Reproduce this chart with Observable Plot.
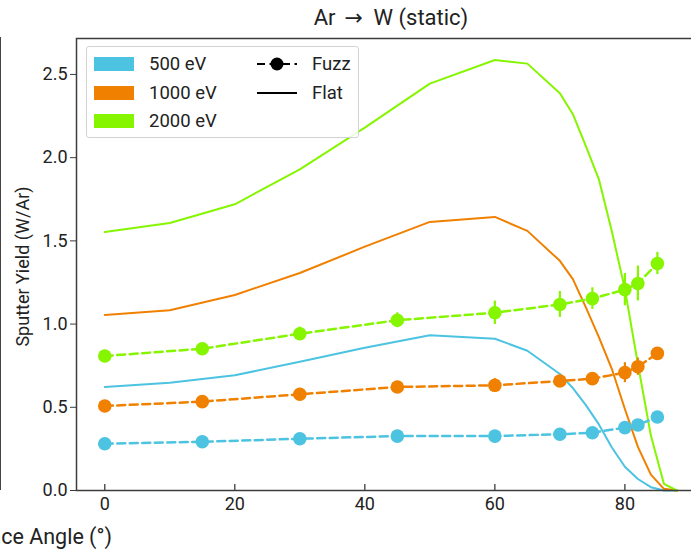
<!DOCTYPE html>
<html>
<head>
<meta charset="utf-8">
<script src="https://cdn.jsdelivr.net/npm/d3@7"></script>
<script src="https://cdn.jsdelivr.net/npm/@observablehq/plot@0.6"></script>
<style>
  html, body { margin: 0; padding: 0; overflow: hidden; background: #fff; }
  #wrap { position: relative; width: 691px; height: 550px; overflow: hidden; font-family: Roboto, sans-serif; color: #222; }
  #wrap svg { position: absolute; left: 0; top: 0; max-width: none; }
  .title { position: absolute; left: 0; width: 782px; top: 5px; text-align: center; font-size: 22px; line-height: 26px; white-space: nowrap; }
  .title .arr { display: inline-block; width: 38px; padding-left: 9px; box-sizing: border-box; text-align: left;
                font-family: "DejaVu Sans", sans-serif; font-size: 22px; line-height: 26px; vertical-align: top; }
  .neighbor { position: absolute; left: -300px; top: 37px; width: 301px; height: 453px; border: 1.5px solid #444; box-sizing: border-box; }
  .neighbor-label { position: absolute; right: 579px; top: 524px; font-size: 21.5px; line-height: 26px; white-space: nowrap; }
  .legend { position: absolute; left: 86px; top: 46px; width: 273px; height: 92px; box-sizing: border-box;
            border: 1px solid #d2d2d2; border-radius: 3px; background: rgba(255,255,255,0.85); font-size: 18.5px; }
  .legend .sw { position: absolute; left: 7px; width: 40px; height: 14px; }
  .legend .lab { position: absolute; line-height: 20px; white-space: nowrap; }
  .legend svg { position: absolute; }
</style>
</head>
<body>
<div id="wrap"></div>
<script>
// Incidence angles (degrees) and sputter yields (W atoms per Ar ion)
const flatAngles = [0, 10, 20, 30, 40, 50, 60, 65, 70, 72, 74, 76, 78, 80, 82, 84, 86, 88];
const flat500  = [0.622, 0.648, 0.692, 0.774, 0.858, 0.933, 0.912, 0.840, 0.700, 0.615, 0.513, 0.397, 0.258, 0.143, 0.069, 0.020, 0.0, 0.0];
const flat1000 = [1.055, 1.083, 1.175, 1.307, 1.465, 1.614, 1.644, 1.560, 1.380, 1.270, 1.100, 0.922, 0.730, 0.490, 0.262, 0.095, 0.010, 0.0];
const flat2000 = [1.553, 1.607, 1.720, 1.930, 2.180, 2.445, 2.587, 2.565, 2.387, 2.261, 2.070, 1.870, 1.556, 1.210, 0.760, 0.330, 0.040, 0.0];

const fuzzAngles = [0, 15, 30, 45, 60, 70, 75, 80, 82, 85];
const fuzz500  = [0.281, 0.293, 0.311, 0.327, 0.327, 0.338, 0.347, 0.378, 0.394, 0.442];
const fuzz1000 = [0.508, 0.534, 0.578, 0.622, 0.632, 0.658, 0.672, 0.708, 0.744, 0.824];
const fuzz2000 = [0.808, 0.852, 0.942, 1.023, 1.068, 1.118, 1.153, 1.207, 1.244, 1.364];
const err500   = [0.010, 0.010, 0.010, 0.015, 0.015, 0.015, 0.015, 0.020, 0.020, 0.020];
const err1000  = [0.015, 0.015, 0.020, 0.025, 0.040, 0.030, 0.030, 0.060, 0.052, 0.030];
const err2000  = [0.025, 0.030, 0.040, 0.045, 0.070, 0.078, 0.065, 0.097, 0.105, 0.067];

const energies = ["500 eV", "1000 eV", "2000 eV"];
const colors = ["#4cc3e0", "#f08000", "#86f500"];
const xTicks = [0, 20, 40, 60, 80];
const yTicks = [0, 0.5, 1.0, 1.5, 2.0, 2.5];
const titleParts = ["Ar", "\u2192", "W (static)"];
const yLabel = "Sputter Yield (W/Ar)";
const figureXLabel = "Incidence Angle (\u00b0)";

const flatSeries = [flat500, flat1000, flat2000];
const fuzzSeries = [fuzz500, fuzz1000, fuzz2000];
const errSeries = [err500, err1000, err2000];

const flat = energies.flatMap((e, i) => flatAngles.map((a, j) => ({energy: e, angle: a, y: flatSeries[i][j]})));
const fuzz = energies.flatMap((e, i) => fuzzAngles.map((a, j) => ({energy: e, angle: a, y: fuzzSeries[i][j], err: errSeries[i][j]})));

const axisColor = "#3c3c3c";
const mTop = 38, mBottom = 60, frameH = 550 - mTop - mBottom;

const chart = Plot.plot({
  width: 712,
  height: 550,
  marginLeft: 76,
  marginRight: 7,
  marginTop: mTop,
  marginBottom: mBottom,
  style: {fontFamily: "Roboto, sans-serif", fontSize: "18px", color: "#222", background: "transparent", overflow: "visible", maxWidth: "none"},
  x: {domain: [-4.35, 92.4]},
  y: {domain: [0, 2.716]},
  color: {domain: energies, range: colors},
  marks: [
    Plot.line(flat, {x: "angle", y: "y", z: "energy", stroke: "energy", strokeWidth: 2}),
    Plot.line(fuzz, {x: "angle", y: "y", z: "energy", stroke: "energy", strokeWidth: 2.5, strokeDasharray: "8,4.5"}),
    Plot.ruleX(fuzz, {x: "angle", y1: d => d.y - d.err, y2: d => d.y + d.err, stroke: "energy", strokeWidth: 2.2}),
    Plot.dot(fuzz, {x: "angle", y: "y", fill: "energy", r: 6.8}),
    Plot.frame({stroke: axisColor, strokeWidth: 1.5}),
    Plot.ruleX(xTicks, {x: d => d, insetTop: frameH - 6, stroke: axisColor, strokeWidth: 1.3}),
    Plot.axisX({ticks: xTicks, tickSize: 0, tickPadding: 7, fontSize: 18, label: null, color: "#222"}),
    Plot.axisY({ticks: yTicks, tickFormat: d3.format(".1f"), tickSize: 6, tickPadding: 3, fontSize: 18, label: null, stroke: axisColor}),
    Plot.text([yLabel], {frameAnchor: "left", textAnchor: "middle", rotate: -90, dx: -53, dy: 2, fontSize: 18, fill: "#222"})
  ]
});

const wrap = document.getElementById("wrap");
wrap.appendChild(chart);

// axes title above the frame
const title = document.createElement("div");
title.className = "title";
title.append(titleParts[0]);
const arr = document.createElement("span");
arr.className = "arr";
arr.textContent = titleParts[1];
title.append(arr, titleParts[2]);
wrap.appendChild(title);

// edge of the neighbouring panel on the left, with the shared x label
const nb = document.createElement("div");
nb.className = "neighbor";
wrap.appendChild(nb);
const nbl = document.createElement("div");
nbl.className = "neighbor-label";
nbl.textContent = figureXLabel;
wrap.appendChild(nbl);

// legend: energy swatches and line-style keys
const leg = document.createElement("div");
leg.className = "legend";
const rowY = [17, 45.5, 74];
energies.forEach((e, i) => {
  const sw = document.createElement("div");
  sw.className = "sw";
  sw.style.top = (rowY[i] - 7) + "px";
  sw.style.background = colors[i];
  leg.appendChild(sw);
  const lab = document.createElement("div");
  lab.className = "lab";
  lab.style.left = "62px";
  lab.style.top = (rowY[i] - 10) + "px";
  lab.textContent = e;
  leg.appendChild(lab);
});
const keys = [{name: "Fuzz", dashed: true}, {name: "Flat", dashed: false}];
keys.forEach((k, i) => {
  const s = d3.create("svg").attr("width", 42).attr("height", 16)
    .style("left", "169px").style("top", (rowY[i] - 8) + "px");
  s.append("line").attr("x1", 1).attr("x2", 41).attr("y1", 8).attr("y2", 8)
    .attr("stroke", "#000").attr("stroke-width", 2)
    .attr("stroke-dasharray", k.dashed ? "8,4.5" : null);
  if (k.dashed) s.append("circle").attr("cx", 21).attr("cy", 8).attr("r", 6.5).attr("fill", "#000");
  leg.appendChild(s.node());
  const lab = document.createElement("div");
  lab.className = "lab";
  lab.style.left = "225px";
  lab.style.top = (rowY[i] - 10) + "px";
  lab.textContent = k.name;
  leg.appendChild(lab);
});
wrap.appendChild(leg);
</script>
</body>
</html>
